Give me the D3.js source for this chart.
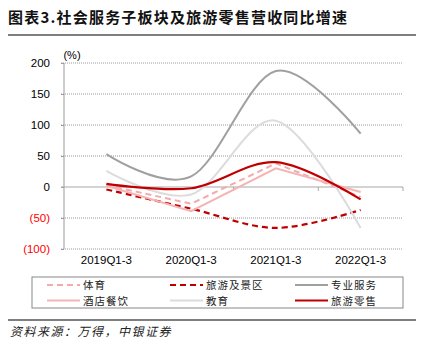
<!DOCTYPE html>
<html>
<head>
<meta charset="utf-8">
<script src="https://cdn.jsdelivr.net/npm/d3@7"></script>
<style>
  body { margin: 0; background: #fff; }
  svg { display: block; }
</style>
</head>
<body>
<svg id="chart" width="424" height="350"></svg>
<script>
// 数据
const categories = ['2019Q1-3', '2020Q1-3', '2021Q1-3', '2022Q1-3']
const yTicks = [200, 150, 100, 50, 0, -50, -100]
const sports = [3, -27, 38, -16]          // 体育
const scenic = [-4, -35, -66, -37]        // 旅游及景区
const professional = [53, 17, 187, 86]    // 专业服务
const hotel = [2, -39, 30, -8]            // 酒店餐饮
const education = [26, -12, 107, -66]     // 教育
const travelRetail = [5, -2, 40, -20]     // 旅游零售

const series = [
    { name: '体育', values: sports, color: '#F2AAAA', dash: '6,4', smooth: false, width: 2 },
    { name: '旅游及景区', values: scenic, color: '#C00000', dash: '6,4', smooth: true, width: 2.2 },
    { name: '专业服务', values: professional, color: '#A0A0A0', dash: null, smooth: true, width: 2 },
    { name: '酒店餐饮', values: hotel, color: '#F4B4B4', dash: null, smooth: false, width: 2 },
    { name: '教育', values: education, color: '#DCDCDC', dash: null, smooth: true, width: 2 },
    { name: '旅游零售', values: travelRetail, color: '#C00000', dash: null, smooth: true, width: 2.2 }
]

const svg = d3.select('#chart')

// 标题
svg.append('text').attr('x', 8).attr('y', 23)
    .style('font-family', '"Noto Sans CJK SC", sans-serif')
    .style('font-size', '15px').style('font-weight', 'bold').style('fill', '#111')
    .style('letter-spacing', '1.2px')
    .text('图表3.社会服务子板块及旅游零售营收同比增速')
svg.append('line').attr('x1', 8).attr('x2', 416).attr('y1', 35).attr('y2', 35)
    .attr('stroke', '#555').attr('stroke-width', 1.5)

const xScale = d3.scaleBand().domain(categories).range([64, 403])
const yScale = d3.scaleLinear().domain([-100, 200]).range([249, 63])
const xPos = c => xScale(c) + xScale.bandwidth() / 2

// 网格线
svg.append('g').selectAll('line').data(yTicks.filter(d => d !== 0)).enter()
    .append('line')
    .attr('x1', 61).attr('x2', 403)
    .attr('y1', d => yScale(d)).attr('y2', d => yScale(d))
    .attr('stroke', '#9a9a9a').attr('stroke-width', 1).attr('stroke-dasharray', '1,1')

// y轴
const yAxis = d3.axisLeft(yScale).tickValues(yTicks).tickSize(3)
    .tickFormat(d => d < 0 ? `(${-d})` : d)
const yAxisGroup = svg.append('g').attr('transform', 'translate(64, 0)').call(yAxis)
yAxisGroup.select('.domain').attr('stroke', '#999').attr('d', `M0,${yScale(200)}V${yScale(-100)}`)
yAxisGroup.selectAll('.tick line').attr('stroke', '#999')
yAxisGroup.selectAll('.tick text')
    .style('font-family', '"Liberation Sans", Arial, sans-serif').style('font-size', '11.5px')
    .attr('x', -14)
    .style('fill', d => d < 0 ? '#FF0000' : '#000')

svg.append('text').attr('x', 72).attr('y', 59).attr('text-anchor', 'middle')
    .style('font-family', '"Liberation Sans", Arial, sans-serif').style('font-size', '11px')
    .text('(%)')

// x轴 (零线)
const xAxis = d3.axisBottom(xScale).tickSize(0).tickFormat('')
const xAxisGroup = svg.append('g').attr('transform', `translate(0, ${yScale(0)})`).call(xAxis)
xAxisGroup.select('.domain').attr('stroke', '#a8a8a8').attr('stroke-width', 1.2)
    .attr('d', `M61,0H403`)
svg.append('g').selectAll('line').data(categories).enter()
    .append('line')
    .attr('x1', d => xScale(d) + xScale.step()).attr('x2', d => xScale(d) + xScale.step())
    .attr('y1', yScale(0)).attr('y2', yScale(0) + 4)
    .attr('stroke', '#a8a8a8')

svg.append('g').selectAll('text').data(categories).enter()
    .append('text')
    .attr('x', d => xPos(d)).attr('y', 264).attr('text-anchor', 'middle')
    .style('font-family', '"Liberation Sans", Arial, sans-serif').style('font-size', '11.5px')
    .text(d => d)

// 折线
series.forEach(s => {
    const line = d3.line()
        .x((d, i) => xPos(categories[i]))
        .y(d => yScale(d))
        .curve(s.smooth ? d3.curveCardinal.tension(0) : d3.curveLinear)
    svg.append('path').datum(s.values)
        .attr('fill', 'none').attr('d', line)
        .attr('stroke', s.color).attr('stroke-width', s.width)
        .attr('stroke-dasharray', s.dash)
})

// 图例
svg.append('rect').attr('x', 32).attr('y', 277).attr('width', 371).attr('height', 31)
    .attr('fill', 'none').attr('stroke', '#888').attr('stroke-width', 1)
const legendCols = [47, 170, 295]
series.forEach((s, i) => {
    const lx = legendCols[i % 3]
    const ly = i < 3 ? 285 : 300.5
    svg.append('line').attr('x1', lx).attr('x2', lx + 33).attr('y1', ly).attr('y2', ly)
        .attr('stroke', s.color).attr('stroke-width', s.width)
        .attr('stroke-dasharray', s.dash)
    svg.append('text').attr('x', lx + 36).attr('y', ly + 4)
        .style('font-family', '"Noto Sans CJK SC", sans-serif').style('font-size', '10.5px')
        .style('letter-spacing', '1px').style('fill', '#222')
        .text(s.name)
})

// 资料来源
svg.append('line').attr('x1', 8).attr('x2', 416).attr('y1', 320).attr('y2', 320)
    .attr('stroke', '#555').attr('stroke-width', 1.5)
svg.append('text').attr('x', 10).attr('y', 336)
    .style('font-family', '"Noto Sans CJK SC", sans-serif').style('font-size', '12px')
    .style('font-style', 'italic').style('letter-spacing', '1.5px').style('fill', '#222')
    .text('资料来源：万得，中银证券')
</script>
</body>
</html>
